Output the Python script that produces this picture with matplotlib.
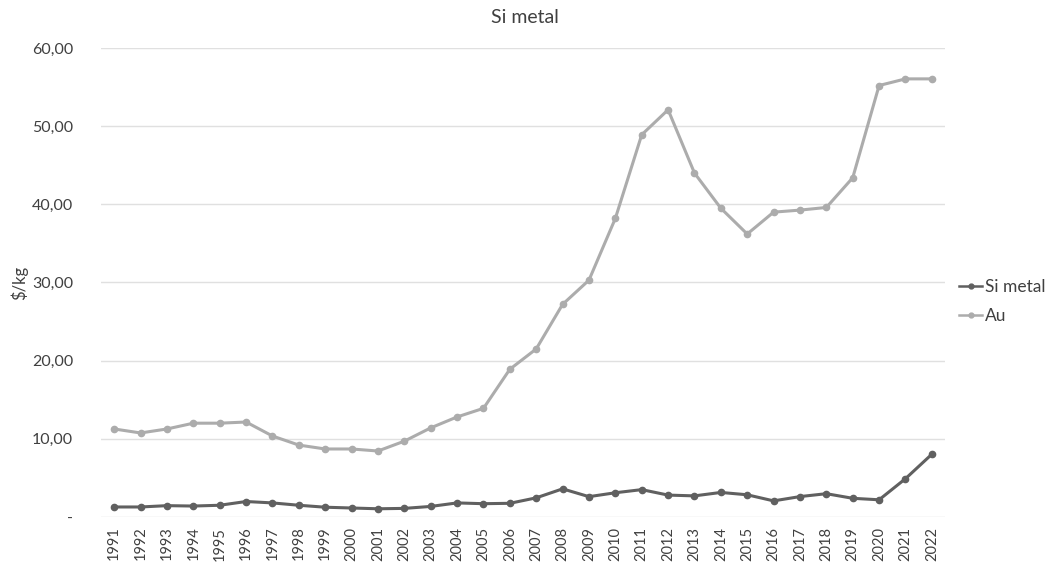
import matplotlib.pyplot as plt
from matplotlib.lines import Line2D
from matplotlib.ticker import FuncFormatter

plt.rcParams['font.family'] = ['Lato', 'DejaVu Sans']

years = list(range(1991, 2023))
si_metal = [1.28, 1.28, 1.45, 1.40, 1.50, 1.98, 1.80, 1.50, 1.25, 1.15, 1.05,
            1.10, 1.35, 1.80, 1.70, 1.75, 2.45, 3.60, 2.60, 3.10, 3.50, 2.80,
            2.70, 3.14, 2.84, 2.06, 2.61, 2.98, 2.39, 2.20, 4.90, 8.03]
au = [11.26, 10.75, 11.26, 12.00, 12.00, 12.15, 10.36, 9.20, 8.70, 8.70, 8.44,
      9.70, 11.40, 12.80, 13.90, 18.90, 21.50, 27.20, 30.30, 38.20, 48.90, 52.10,
      44.00, 39.50, 36.20, 39.00, 39.26, 39.60, 43.40, 55.20, 56.05, 56.05]

si_color = '#606060'
au_color = '#acacac'

fig = plt.figure(figsize=(10.49, 5.62), dpi=100)
ax = fig.add_axes([0.0963, 0.0801, 0.8046, 0.8345])

x = list(range(len(years)))
ax.plot(x, si_metal, color=si_color, lw=2.2, marker='o', ms=4.5, zorder=3)
ax.plot(x, au, color=au_color, lw=2.2, marker='o', ms=4.5, zorder=3)

ax.set_xlim(-0.5, len(years) - 0.5)
ax.set_ylim(0, 60)
ax.set_yticks(range(0, 61, 10))


def fmt(v, pos):
    if v == 0:
        return '-'
    return f'{v:.2f}'.replace('.', ',')


ax.yaxis.set_major_formatter(FuncFormatter(fmt))
ax.set_xticks(x)
ax.set_xticklabels([str(y) for y in years], rotation=90)
ax.tick_params(axis='y', length=0, labelsize=11.5, colors='#404040', pad=20)
ax.tick_params(axis='x', length=0, labelsize=10.5, colors='#404040', pad=7)
ax.grid(axis='y', color='#e0e0e0', lw=1)
ax.set_axisbelow(True)
for s in ax.spines.values():
    s.set_visible(False)

ax.set_ylabel('$/kg', fontsize=12, color='#404040', labelpad=3)
fig.text(0.5, 0.968, 'Si metal', ha='center', va='center', fontsize=14, color='#404040')

# legend keys drawn a bit thinner than the plotted lines
handles = [Line2D([], [], color=si_color, lw=1.8, marker='o', ms=3.5),
           Line2D([], [], color=au_color, lw=1.8, marker='o', ms=3.5)]
fig.legend(handles, ['Si metal', 'Au'], loc='center left', bbox_to_anchor=(0.914, 0.463),
           frameon=False, fontsize=12.5, handlelength=1.35, handletextpad=0.15,
           labelspacing=0.75, borderpad=0, borderaxespad=0, labelcolor='#404040')

fig.savefig('out.png', dpi=100)
